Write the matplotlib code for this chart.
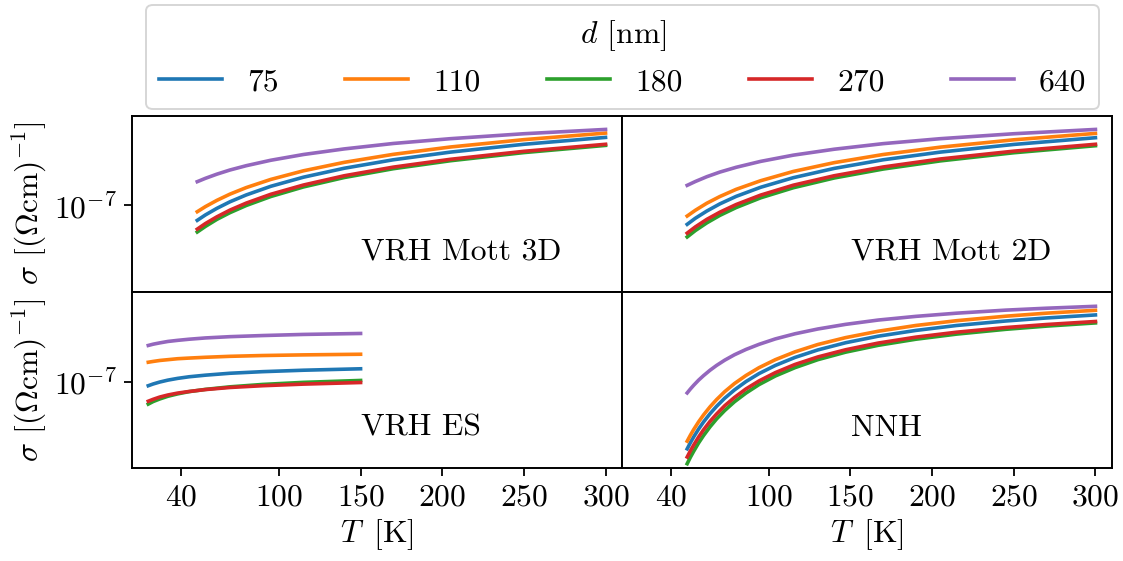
import numpy as np
import matplotlib
matplotlib.use("Agg")
import matplotlib.pyplot as plt
from matplotlib.ticker import NullLocator

FS = 22.7

plt.rcParams.update({
    "font.family": "serif",
    "font.serif": ["cmr10", "DejaVu Serif"],
    "mathtext.fontset": "cm",
    "axes.formatter.use_mathtext": True,
    "axes.unicode_minus": False,
    "font.size": FS,
    "axes.linewidth": 1.4,
    "xtick.major.size": 5.5,
    "ytick.major.size": 5.5,
    "xtick.major.width": 1.3,
    "ytick.major.width": 1.3,
    "xtick.major.pad": 5.5,
    "ytick.major.pad": 5.5,
})

# film thicknesses d [nm]
thickness = [75, 110, 180, 270, 640]
colors = ["#1f77b4", "#ff7f0e", "#2ca02c", "#d62728", "#9467bd"]

# temperatures [K]
T_mott = [50, 55, 62, 70, 80, 95, 115, 140, 170, 205, 250, 300]
T_es = [20, 23, 27, 32, 38, 45, 55, 70, 90, 115, 150]
T_nnh = [50, 52, 54, 57, 60, 64, 68, 73, 79, 86, 94, 104, 116, 130, 147, 167, 190, 215, 245, 270, 300]

# log10 of conductivity [(Ohm cm)^-1], one row per thickness
logsig_mott3d = [
    [-7.094, -7.060, -7.019, -6.978, -6.935, -6.881, -6.824, -6.768, -6.715, -6.667, -6.618, -6.575],
    [-7.040, -7.008, -6.969, -6.930, -6.889, -6.838, -6.784, -6.731, -6.681, -6.635, -6.589, -6.548],
    [-7.167, -7.132, -7.088, -7.046, -7.001, -6.945, -6.885, -6.826, -6.771, -6.721, -6.670, -6.625],
    [-7.149, -7.114, -7.072, -7.030, -6.986, -6.931, -6.873, -6.815, -6.761, -6.712, -6.662, -6.618],
    [-6.852, -6.831, -6.805, -6.779, -6.752, -6.718, -6.682, -6.647, -6.613, -6.583, -6.552, -6.525],
]
logsig_mott2d = [
    [-7.119, -7.081, -7.036, -6.991, -6.944, -6.887, -6.827, -6.769, -6.715, -6.667, -6.619, -6.577],
    [-7.067, -7.031, -6.987, -6.945, -6.900, -6.846, -6.788, -6.733, -6.682, -6.636, -6.590, -6.550],
    [-7.198, -7.158, -7.110, -7.063, -7.014, -6.953, -6.890, -6.829, -6.773, -6.722, -6.671, -6.627],
    [-7.174, -7.135, -7.088, -7.043, -6.995, -6.936, -6.874, -6.815, -6.760, -6.710, -6.661, -6.618],
    [-6.875, -6.851, -6.821, -6.792, -6.762, -6.725, -6.686, -6.649, -6.614, -6.583, -6.552, -6.525],
]
logsig_es = [
    [-7.025, -7.014, -7.002, -6.990, -6.979, -6.969, -6.959, -6.947, -6.937, -6.928, -6.919],
    [-6.878, -6.873, -6.867, -6.862, -6.856, -6.852, -6.847, -6.841, -6.836, -6.832, -6.828],
    [-7.140, -7.124, -7.108, -7.091, -7.076, -7.062, -7.048, -7.032, -7.017, -7.004, -6.992],
    [-7.122, -7.110, -7.096, -7.083, -7.071, -7.061, -7.049, -7.036, -7.025, -7.015, -7.005],
    [-6.773, -6.765, -6.757, -6.748, -6.741, -6.734, -6.726, -6.718, -6.711, -6.704, -6.698],
]
logsig_nnh = [
    [-7.420, -7.381, -7.345, -7.296, -7.252, -7.200, -7.154, -7.103, -7.051, -6.999, -6.949,
     -6.898, -6.848, -6.801, -6.756, -6.715, -6.679, -6.648, -6.620, -6.601, -6.582],
    [-7.372, -7.334, -7.299, -7.251, -7.208, -7.157, -7.112, -7.062, -7.011, -6.961, -6.912,
     -6.862, -6.813, -6.767, -6.724, -6.684, -6.648, -6.618, -6.590, -6.571, -6.553],
    [-7.513, -7.472, -7.435, -7.383, -7.337, -7.282, -7.233, -7.180, -7.125, -7.071, -7.018,
     -6.964, -6.912, -6.862, -6.815, -6.772, -6.734, -6.702, -6.672, -6.652, -6.632],
    [-7.471, -7.432, -7.396, -7.346, -7.301, -7.248, -7.202, -7.150, -7.098, -7.045, -6.995,
     -6.943, -6.892, -6.845, -6.800, -6.758, -6.721, -6.690, -6.661, -6.642, -6.623],
    [-7.070, -7.045, -7.022, -6.990, -6.962, -6.928, -6.898, -6.865, -6.831, -6.798, -6.766,
     -6.732, -6.700, -6.670, -6.641, -6.614, -6.591, -6.571, -6.552, -6.540, -6.528],
]

panels = [
    ("VRH Mott 3D", T_mott, logsig_mott3d),
    ("VRH Mott 2D", T_mott, logsig_mott2d),
    ("VRH ES", T_es, logsig_es),
    ("NNH", T_nnh, logsig_nnh),
]

fig, axes = plt.subplots(2, 2, sharex=True, sharey=True, figsize=(11.23, 5.61), dpi=100,
                         gridspec_kw=dict(hspace=0, wspace=0))
fig.subplots_adjust(left=0.1175, right=0.990, top=0.7938, bottom=0.1649)

for ax, (name, T, logsig) in zip(axes.flat, panels):
    for d, c, row in zip(thickness, colors, logsig):
        ax.plot(T, 10 ** np.asarray(row), color=c, lw=2.6, label=str(d))
    ax.set_yscale("log")
    ax.text(0.468, 0.23, name, transform=ax.transAxes, ha="left", va="center", fontsize=FS)

ax0 = axes[0, 0]
ax0.set_xlim(10, 310)
ax0.set_ylim(10 ** -7.543, 10 ** -6.439)
ax0.set_xticks([40, 100, 150, 200, 250, 300])

for ax in axes.flat:
    ax.yaxis.set_minor_locator(NullLocator())
    ax.xaxis.set_minor_locator(NullLocator())
for ax in axes[0, :]:
    ax.tick_params(axis="x", bottom=False, labelbottom=False)
for ax in axes[:, 1]:
    ax.tick_params(axis="y", left=False, labelleft=False)
for ax in axes[:, 0]:
    ax.set_ylabel(r"$\sigma$ $[(\Omega\mathrm{cm})^{-1}]$")
for ax in axes[1, :]:
    ax.set_xlabel(r"$T\,$ [K]")

handles, labels = ax0.get_legend_handles_labels()
leg = fig.legend(handles, labels, loc="upper center", bbox_to_anchor=(0.5545, 0.991),
                 borderaxespad=0.0, ncol=5, title=r"$d$ [nm]", fontsize=FS, title_fontsize=FS,
                 columnspacing=2.1, handlelength=2.0, frameon=True, fancybox=True,
                 edgecolor="0.8", framealpha=0.8, borderpad=0.4)
leg.get_frame().set_linewidth(1.4)

fig.savefig("out.png", dpi=100)
